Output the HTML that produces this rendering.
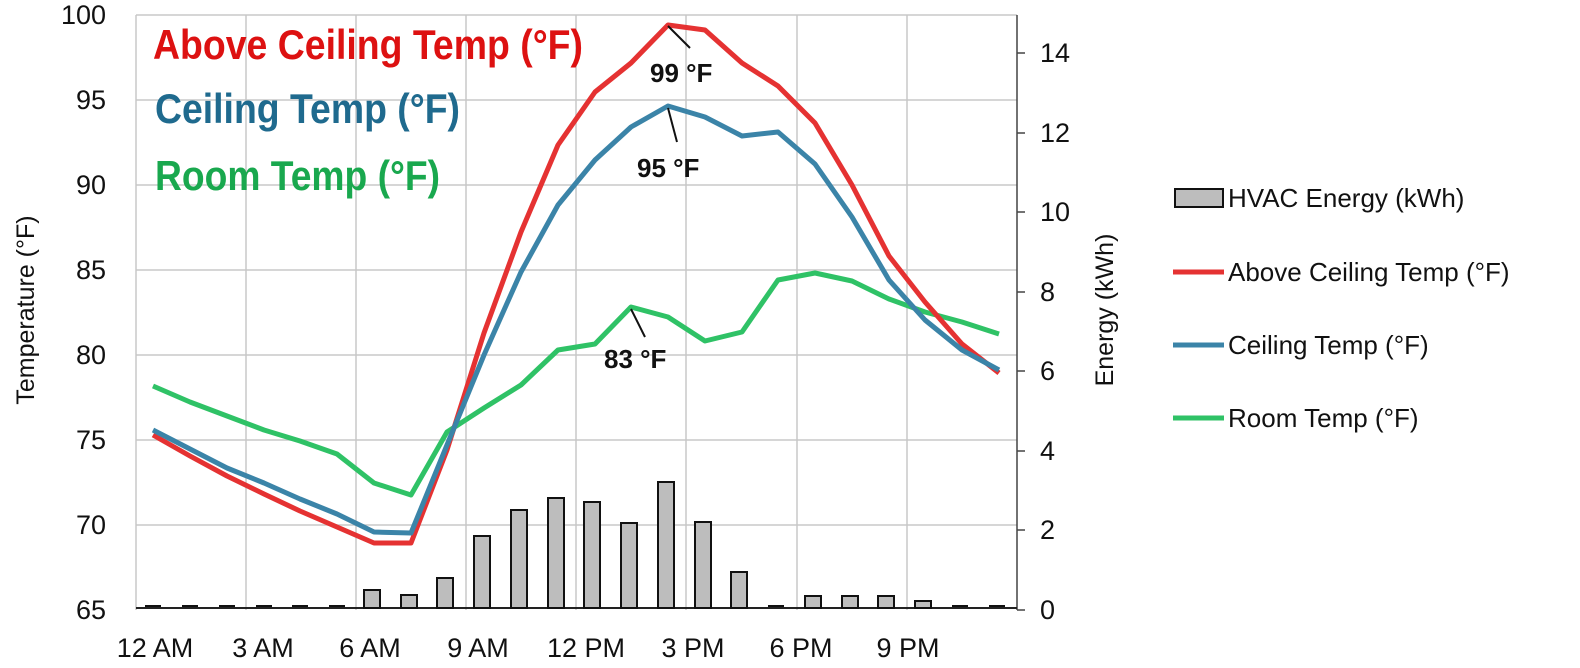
<!DOCTYPE html>
<html><head><meta charset="utf-8"><style>body{margin:0;background:#fff}svg{display:block}text{font-family:"Liberation Sans",sans-serif}</style></head>
<body>
<svg width="1580" height="668" viewBox="0 0 1580 668">
<g stroke="#c8c8c8" stroke-width="1.5">
<line x1="136" y1="15" x2="1017" y2="15"/><line x1="136" y1="100" x2="1017" y2="100"/><line x1="136" y1="185" x2="1017" y2="185"/><line x1="136" y1="270" x2="1017" y2="270"/><line x1="136" y1="355" x2="1017" y2="355"/><line x1="136" y1="440" x2="1017" y2="440"/><line x1="136" y1="525" x2="1017" y2="525"/>
<line x1="136" y1="15" x2="136" y2="610"/><line x1="246" y1="15" x2="246" y2="610"/><line x1="356" y1="15" x2="356" y2="610"/><line x1="466" y1="15" x2="466" y2="610"/><line x1="576" y1="15" x2="576" y2="610"/><line x1="686" y1="15" x2="686" y2="610"/><line x1="797" y1="15" x2="797" y2="610"/><line x1="907" y1="15" x2="907" y2="610"/>
</g>
<line x1="1017" y1="15" x2="1017" y2="610" stroke="#444" stroke-width="1.5"/>
<g stroke="#444" stroke-width="1.5"><line x1="1017" y1="53" x2="1025" y2="53"/><line x1="1017" y1="133" x2="1025" y2="133"/><line x1="1017" y1="212" x2="1025" y2="212"/><line x1="1017" y1="292" x2="1025" y2="292"/><line x1="1017" y1="371" x2="1025" y2="371"/><line x1="1017" y1="451" x2="1025" y2="451"/><line x1="1017" y1="530" x2="1025" y2="530"/><line x1="1017" y1="610" x2="1025" y2="610"/></g>
<line x1="136" y1="608" x2="1017" y2="608" stroke="#222" stroke-width="2"/>
<g fill="#bdbdbd" stroke="#111" stroke-width="2">
<line x1="145" y1="606" x2="161" y2="606"/><line x1="182" y1="606" x2="198" y2="606"/><line x1="219" y1="606" x2="235" y2="606"/><line x1="256" y1="606" x2="272" y2="606"/><line x1="292" y1="606" x2="308" y2="606"/><line x1="329" y1="606" x2="345" y2="606"/>
<rect x="364" y="590" width="16" height="18"/><rect x="401" y="595" width="16" height="13"/><rect x="437" y="578" width="16" height="30"/><rect x="474" y="536" width="16" height="72"/><rect x="511" y="510" width="16" height="98"/><rect x="548" y="498" width="16" height="110"/><rect x="584" y="502" width="16" height="106"/><rect x="621" y="523" width="16" height="85"/><rect x="658" y="482" width="16" height="126"/><rect x="695" y="522" width="16" height="86"/><rect x="731" y="572" width="16" height="36"/>
<line x1="768" y1="606" x2="784" y2="606"/><rect x="805" y="596" width="16" height="12"/><rect x="842" y="596" width="16" height="12"/><rect x="878" y="596" width="16" height="12"/><rect x="915" y="601" width="16" height="7"/><line x1="952" y1="606" x2="968" y2="606"/><line x1="989" y1="606" x2="1005" y2="606"/>
</g>
<g fill="none" stroke-width="5" stroke-linejoin="round">
<polyline stroke="#2fc266" points="153,386 190,402 227,416 264,430 300,441 337,454 374,483 411,495 447,432 484,408 521,385 558,350 595,344 631,307 668,317 705,341 742,332 778,280 815,273 852,281 889,299 925,312 962,322 999,334"/>
<polyline stroke="#e53232" points="153,435 190,456 227,476 264,494 300,511 337,527 374,543 411,543 447,450 484,333 521,232 558,145 595,92 631,63 668,25 705,30 742,63 778,86 815,123 852,185 889,256 925,302 962,344 999,373"/>
<polyline stroke="#3b84a8" points="153,430 190,449 227,468 264,483 300,499 337,514 374,532 411,533 447,445 484,355 521,272 558,205 595,160 631,127 668,106 705,117 742,136 778,132 815,164 852,217 889,280 925,320 962,350 999,370"/>
</g>
<g stroke="#111" stroke-width="2"><line x1="668" y1="26" x2="690" y2="48"/><line x1="668" y1="108" x2="677" y2="142"/><line x1="631" y1="309" x2="645" y2="337"/></g>
<g font-weight="bold" font-size="26" fill="#111">
<text x="650" y="82">99 °F</text><text x="637" y="177">95 °F</text><text x="604" y="368">83 °F</text>
</g>
<text x="153" y="59" font-size="42" font-weight="bold" fill="#dd1111" textLength="430" lengthAdjust="spacingAndGlyphs">Above Ceiling Temp (°F)</text>
<text x="155" y="123" font-size="42" font-weight="bold" fill="#1f6a8e" textLength="305" lengthAdjust="spacingAndGlyphs">Ceiling Temp (°F)</text>
<text x="155" y="190" font-size="42" font-weight="bold" fill="#19a84e" textLength="285" lengthAdjust="spacingAndGlyphs">Room Temp (°F)</text>
<g font-size="27" fill="#111" text-anchor="end">
<text x="106" y="24">100</text><text x="106" y="109">95</text><text x="106" y="194">90</text><text x="106" y="279">85</text><text x="106" y="364">80</text><text x="106" y="449">75</text><text x="106" y="534">70</text><text x="106" y="619">65</text>
</g>
<g font-size="27" fill="#111">
<text x="1040" y="62">14</text><text x="1040" y="142">12</text><text x="1040" y="221">10</text><text x="1040" y="301">8</text><text x="1040" y="380">6</text><text x="1040" y="460">4</text><text x="1040" y="539">2</text><text x="1040" y="619">0</text>
</g>
<g font-size="27" fill="#111" text-anchor="middle">
<text x="155" y="657">12 AM</text><text x="263" y="657">3 AM</text><text x="370" y="657">6 AM</text><text x="478" y="657">9 AM</text><text x="586" y="657">12 PM</text><text x="693" y="657">3 PM</text><text x="801" y="657">6 PM</text><text x="908" y="657">9 PM</text>
</g>
<text transform="translate(34,310) rotate(-90)" font-size="25" fill="#111" text-anchor="middle">Temperature (°F)</text>
<text transform="translate(1113,310) rotate(-90)" font-size="25" fill="#111" text-anchor="middle">Energy (kWh)</text>
<rect x="1175" y="189" width="48" height="18" fill="#bdbdbd" stroke="#111" stroke-width="2"/>
<line x1="1173" y1="272" x2="1224" y2="272" stroke="#e53232" stroke-width="5"/>
<line x1="1173" y1="345" x2="1224" y2="345" stroke="#3b84a8" stroke-width="5"/>
<line x1="1173" y1="418" x2="1224" y2="418" stroke="#2fc266" stroke-width="5"/>
<g font-size="26" fill="#111">
<text x="1228" y="207">HVAC Energy (kWh)</text><text x="1228" y="281">Above Ceiling Temp (°F)</text><text x="1228" y="354">Ceiling Temp (°F)</text><text x="1228" y="427">Room Temp (°F)</text>
</g>
</svg>
</body></html>
